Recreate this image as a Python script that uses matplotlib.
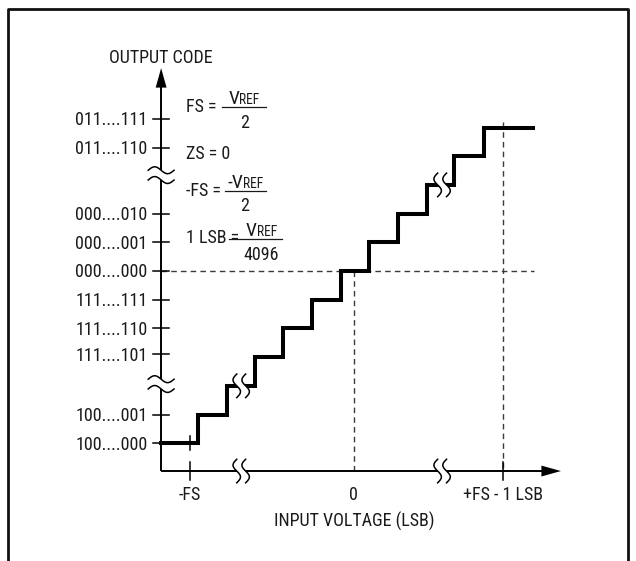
import numpy as np
import matplotlib
matplotlib.use("Agg")
import matplotlib.pyplot as plt
from matplotlib.lines import Line2D
from matplotlib.patches import Polygon
from matplotlib import font_manager

# ---------------- data ----------------
code_labels = ['011....111', '011....110', '000....010', '000....001', '000....000',
               '111....111', '111....110', '111....101', '100....001', '100....000']
code_ticks = [5.3, 4.3, 2.0, 1.0, 0.0, -1.0, -2.0, -2.9, -5.0, -6.0]

x_tick_labels = ['-FS', '0', '+FS - 1 LSB']
x_ticks = [-5.71, 0.0, 5.2]

# staircase transfer function (x in LSB, y in code steps)
step_x = [-6.71, -5.44, -4.42, -3.44, -2.45, -1.45, -0.44, 0.52, 1.53, 2.54, 3.49, 4.53, 6.25]
step_levels = [-6, -5, -4, -3, -2, -1, 0, 1, 2, 3, 4, 5]

# break symbols
x_breaks = [-3.92, 3.08]          # on x axis and on staircase
stair_break_levels = [-4, 3]
y_breaks = [3.34, -3.94]          # on y axis

x_axis_y = -6.97
y_axis_x = -6.71
x_axis_end = 7.22
y_axis_end = 7.07
zero_line_end = 6.28
fs_line_top = 5.19

# ---------------- fonts ----------------
avail = {f.name for f in font_manager.fontManager.ttflist}
fam = [f for f in ['Roboto Condensed', 'Liberation Sans', 'DejaVu Sans'] if f in avail]
plt.rcParams['font.family'] = fam

# ---------------- figure ----------------
W, H = 636, 561
fig = plt.figure(figsize=(W / 100, H / 100), dpi=100)
ax = fig.add_axes([0, 0, 1, 1])
X0, Y0, U = 353.7, 271.0, 28.7


def P(px, py):
    return (px - X0) / U, (Y0 - py) / U


ax.set_xlim(P(0, 0)[0], P(W, 0)[0])
ax.set_ylim(P(0, H)[1], P(0, 0)[1])
ax.axis('off')

TXT = '#1a1a1a'
FS_MAIN = 13.0
FS_SUB = 9.8

# frame
fig.add_artist(Line2D([8 / W, 8 / W, 628 / W, 628 / W], [0, 1 - 9 / H, 1 - 9 / H, 0],
                      transform=fig.transFigure, color='#111', lw=2.0))

# axes lines
ax.plot([y_axis_x, y_axis_x], [x_axis_y, y_axis_end - 0.5], color='k', lw=1.4, zorder=2,
        solid_capstyle='butt')
ax.plot([y_axis_x, x_axis_end - 0.5], [x_axis_y, x_axis_y], color='k', lw=1.4, zorder=2,
        solid_capstyle='butt')
# arrowheads
ah_len, ah_w = 0.68, 0.19
ax.add_patch(Polygon([[y_axis_x, y_axis_end], [y_axis_x - ah_w, y_axis_end - ah_len],
                      [y_axis_x + ah_w, y_axis_end - ah_len]], closed=True, color='k', lw=0, zorder=3))
ax.add_patch(Polygon([[x_axis_end, x_axis_y], [x_axis_end - ah_len, x_axis_y - ah_w],
                      [x_axis_end - ah_len, x_axis_y + ah_w]], closed=True, color='k', lw=0, zorder=3))

# dashed guide lines
dash_kw = dict(color='#3a3a3a', lw=1.0, dashes=(4.0, 3.0), zorder=1)
ax.plot([y_axis_x, zero_line_end], [0, 0], **dash_kw)
ax.plot([0, 0], [0, x_axis_y], **dash_kw)
ax.plot([x_ticks[2], x_ticks[2]], [fs_line_top, x_axis_y], **dash_kw)

# y ticks and labels
for t, lab in zip(code_ticks, code_labels):
    ax.plot([y_axis_x - 0.28, y_axis_x + 0.28], [t, t], color='k', lw=1.1, zorder=2)
    ax.text(y_axis_x - 0.47, t - 0.05, lab, ha='right', va='center', fontsize=FS_MAIN, color=TXT)

# x ticks and labels
for i, (t, lab) in enumerate(zip(x_ticks, x_tick_labels)):
    if i != 1:
        ax.plot([t, t], [x_axis_y - 0.3, x_axis_y + 0.3], color='k', lw=1.1, zorder=2)
    ax.text(t, P(0, 494.5)[1], lab, ha='center', va='center', fontsize=FS_MAIN, color=TXT)
# -FS marker on first step
ax.plot([x_ticks[0], x_ticks[0]], [step_levels[0] - 0.25, step_levels[0] + 0.25],
        color='k', lw=1.1, zorder=3)

# staircase
sx = step_x
sy = step_levels + [step_levels[-1]]
ax.plot(sx, sy, drawstyle='steps-post', color='k', lw=2.9, zorder=2, solid_joinstyle='miter')


# break symbols
def vbreak(cx, cy, h=0.41, w=0.13, gap=0.31):
    t = np.linspace(-1, 1, 60)
    yy = cy - h * t
    x1 = cx - gap / 2 + w * np.sin(np.pi * t)
    x2 = x1 + gap
    poly = np.column_stack([np.r_[x1, x2[::-1]], np.r_[yy, yy[::-1]]])
    ax.add_patch(Polygon(poly, closed=True, color='white', lw=0, zorder=4))
    ax.plot(x1, yy, color='k', lw=1.1, zorder=5)
    ax.plot(x2, yy, color='k', lw=1.1, zorder=5)


def hbreak(cx, cy, h=0.45, w=0.12, gap=0.34):
    t = np.linspace(-1, 1, 60)
    xx = cx + h * t
    y1 = cy + gap / 2 - w * np.sin(np.pi * t)
    y2 = y1 - gap
    poly = np.column_stack([np.r_[xx, xx[::-1]], np.r_[y1, y2[::-1]]])
    ax.add_patch(Polygon(poly, closed=True, color='white', lw=0, zorder=4))
    ax.plot(xx, y1, color='k', lw=1.1, zorder=5)
    ax.plot(xx, y2, color='k', lw=1.1, zorder=5)


for bx in x_breaks:
    vbreak(bx, x_axis_y)
for bx, lv in zip(x_breaks, stair_break_levels):
    vbreak(bx, lv)
for by in y_breaks:
    hbreak(y_axis_x, by)

# axis titles
ax.text(*P(161, 58), 'OUTPUT CODE', ha='center', va='center', fontsize=FS_MAIN, color=TXT)
ax.text(*P(354, 521.5), 'INPUT VOLTAGE (LSB)', ha='center', va='center', fontsize=FS_MAIN, color=TXT)


# formulas
def vref(cx_px, base_py, split_off=-5.5, prefix=''):
    x, y = P(cx_px + split_off, base_py)
    ax.text(x, y, prefix + 'V', ha='right', va='baseline', fontsize=FS_MAIN + 1.0, color=TXT)
    ax.text(x, y, 'REF', ha='left', va='baseline', fontsize=FS_SUB, color=TXT)


def bar(x0p, x1p, yp):
    a, b = P(x0p, yp), P(x1p, yp)
    ax.plot([a[0], b[0]], [a[1], b[1]], color=TXT, lw=0.9, zorder=3)


# FS
ax.text(*P(186, 107), 'FS = ', ha='left', va='center', fontsize=FS_MAIN, color=TXT)
bar(222, 266, 107.5)
vref(245, 104.5)
ax.text(*P(245, 122.5), '2', ha='center', va='center', fontsize=FS_MAIN, color=TXT)
# ZS
ax.text(*P(186, 154), 'ZS = 0', ha='left', va='center', fontsize=FS_MAIN, color=TXT)
# -FS
ax.text(*P(186, 191), '-FS =', ha='left', va='center', fontsize=FS_MAIN, color=TXT)
bar(225, 266, 191)
vref(249, 187.5, prefix='-')
ax.text(*P(245, 206), '2', ha='center', va='center', fontsize=FS_MAIN, color=TXT)
# 1 LSB
ax.text(*P(186, 238), '1 LSB =', ha='left', va='center', fontsize=FS_MAIN, color=TXT)
bar(229, 282, 239)
vref(262, 236.5)
ax.text(*P(261, 255), '4096', ha='center', va='center', fontsize=FS_MAIN, color=TXT)

fig.savefig('out.png', dpi=100, facecolor='white')
